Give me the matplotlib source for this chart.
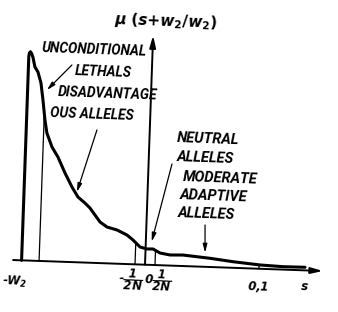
import numpy as np
import matplotlib
matplotlib.use("Agg")
import matplotlib.pyplot as plt
from matplotlib.transforms import Affine2D

# ---------------- data (schematic units: s-position, mu height) ----------------
curve_s = [-123.5, -123.5, -123.0, -122.0, -120.8, -119.4, -117.0, -113.8, -110.4,
           -107.8, -105.1, -102.7, -97.1, -90.8, -83.2, -75.7, -69.4, -62.2, -57.0,
           -46.5, -39.3, -29.2, -19.0, -12.9, -5.6, 1.4, 7.4, 14.6, 24.7, 37.7,
           64.8, 87.9, 115.0, 138.0, 160.0]
curve_mu = [0, 204, 207.5, 208.8, 207.0, 203.6, 193.7, 188.8, 177.9,
            161.0, 141.0, 128.1, 114.3, 104.5, 88.8, 75.0, 65.3, 59.5, 54.7,
            41.1, 36.3, 33.7, 29.0, 24.3, 17.5, 15.8, 16.0, 12.2, 10.6, 11.0,
            8.7, 6.1, 3.8, 2.9, 3.1]

boundary_s = [-106.0, -10.0, 10.0]          # lines from axis up to the curve
tick_s = [114.0]                            # small tick at 0,1
tick_labels = [r"-$\mathbf{W_2}$", r"-$\dfrac{\mathbf{1}}{\mathbf{2N}}$", r"$\mathbf{0}$",
               r"$\dfrac{\mathbf{1}}{\mathbf{2N}}$", r"$\mathbf{0{,}1}$", r"$\mathbf{s}$"]
tick_label_s = [-129.5, -13.5, 4.5, 17.5, 113.5, 160.3]
tick_label_mu = [-22.0, -15.7, -15.0, -15.2, -18.3, -16.6]
tick_label_size = [8.5, 8.5, 8.5, 8.5, 8.5, 8.5]

ylabel = r"$\mu\ (s{+}w_2/w_2)$"

texts = ["UNCONDITIONAL", "LETHALS", "DISADVANTAGE", "OUS ALLELES",
         "NEUTRAL", "ALLELES", "MODERATE", "ADAPTIVE", "ALLELES"]
text_s = [-110.7, -76.9, -93.1, -100.4, 27.5, 28.2, 34.9, 32.5, 31.2]
text_mu = [212.9, 191.1, 169.5, 148.2, 127.8, 108.3, 89.0, 70.9, 52.8]
text_group = ["left"] * 4 + ["right"] * 5

arrow_from = [(-80.1, 197.0), (-52.8, 132.9), (23.4, 101.6), (58.6, 41.8)]
arrow_to = [(-104.2, 171.1), (-70.6, 70.3), (5.9, 23.4), (59.6, 14.1)]

# ---------------- style ----------------
plt.rcParams["mathtext.fontset"] = "custom"
plt.rcParams["mathtext.it"] = "DejaVu Sans:italic:bold"
plt.rcParams["mathtext.rm"] = "DejaVu Sans:bold"
plt.rcParams["mathtext.bf"] = "DejaVu Sans:italic:bold"

TILT = -2.03  # the scanned drawing is slightly rotated
group_size = {"left": 9.9, "right": 10.5}

fig = plt.figure(figsize=(3.38, 3.12), dpi=100)
ax = fig.add_axes([0, 0, 1, 1])
ax.set_xlim(-145, 193)
ax.set_ylim(-47.3, 264.7)
ax.axis("off")
tr = Affine2D().rotate_deg(TILT) + ax.transData

# axes with arrows
axis_arrow = dict(arrowstyle="-|>,head_length=0.7,head_width=0.18", color="black",
                  lw=1.4, shrinkA=0, shrinkB=0, mutation_scale=10)
ax.annotate("", xy=(178, 0), xytext=(-132, 0), xycoords=tr, textcoords=tr,
            arrowprops=axis_arrow)
ax.annotate("", xy=(0, 229.5), xytext=(0, 0), xycoords=tr, textcoords=tr,
            arrowprops=axis_arrow)

# curve
ax.plot(curve_s, curve_mu, color="black", lw=2.2, transform=tr,
        solid_joinstyle="round", solid_capstyle="round")

# boundary lines
cs = np.array(curve_s[2:])
cm = np.array(curve_mu[2:])
for s in boundary_s:
    ax.plot([s, s], [0, np.interp(s, cs, cm)], color="black", lw=0.9, transform=tr)
for s in tick_s:
    ax.plot([s, s], [0, 4], color="black", lw=0.9, transform=tr)

# tick labels
for lab, s, m, fs in zip(tick_labels, tick_label_s, tick_label_mu, tick_label_size):
    ax.text(s, m, lab, transform=tr, rotation=TILT, rotation_mode="anchor",
            ha="center", va="center", fontsize=fs, fontweight="bold", style="italic")

# y label
ax.text(12.3, 244.3, ylabel, transform=tr, rotation=TILT, rotation_mode="anchor",
        ha="center", va="center", fontsize=11)

# annotations
for t, s, m, g in zip(texts, text_s, text_mu, text_group):
    ax.text(s, m, t, transform=tr, rotation=TILT, rotation_mode="anchor",
            ha="left", va="center", fontsize=group_size[g], fontweight="bold",
            style="italic", family=["Roboto", "DejaVu Sans"])

thin_arrow = dict(arrowstyle="-|>,head_length=0.5,head_width=0.13", color="black",
                  lw=0.9, shrinkA=0, shrinkB=0, mutation_scale=10)
for a, b in zip(arrow_from, arrow_to):
    ax.annotate("", xy=b, xytext=a, xycoords=tr, textcoords=tr, arrowprops=thin_arrow)

fig.savefig("out.png", dpi=100, facecolor="white")
